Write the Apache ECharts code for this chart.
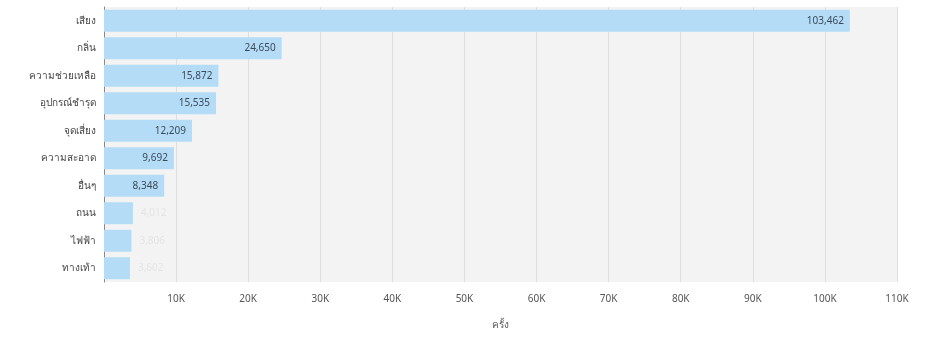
<!DOCTYPE html>
<html><head><meta charset="utf-8">
<script src="https://cdn.jsdelivr.net/npm/echarts@6/dist/echarts.min.js"></script>
<style>html,body{margin:0;padding:0;background:#fff}#c{width:928px;height:339px}</style>
</head><body><div id="c"></div>
<script>
const categories = ["เสียง","กลิ่น","ความช่วยเหลือ","อุปกรณ์ชำรุด","จุดเสี่ยง","ความสะอาด","อื่นๆ","ถนน","ไฟฟ้า","ทางเท้า"];
const values = [103462,24650,15872,15535,12209,9692,8348,4012,3806,3602];
const xTicks = [0,10000,20000,30000,40000,50000,60000,70000,80000,90000,100000,110000];
const axisName = "ครั้ง";

const chart = echarts.init(document.getElementById('c'));
chart.setOption({
  animation:false,
  grid:{left:104,right:31,top:7,bottom:57,containLabel:false,backgroundColor:'#f3f3f3',show:true,borderWidth:0},
  xAxis:{type:'value',min:xTicks[0],max:xTicks[xTicks.length-1],interval:xTicks[1]-xTicks[0],
    name:axisName,nameLocation:'middle',nameGap:38,nameTextStyle:{color:'#555',fontSize:10,fontFamily:'Noto Sans'},
    axisLabel:{color:'#555',fontSize:10,fontFamily:'Noto Sans',margin:12,
      formatter:v=>v===0?'':(v/1000)+'K'},
    splitLine:{show:true,lineStyle:{color:'#dedede',width:1}},
    axisLine:{show:false},axisTick:{show:false}},
  yAxis:{type:'category',data:categories,inverse:true,
    axisLabel:{color:'#444',fontSize:10,fontFamily:'Noto Sans',margin:8},
    axisLine:{show:true,lineStyle:{color:'#888',width:1}},axisTick:{show:false}},
  series:[{type:'bar',data:values.map((v,i)=>({value:v,label: i>=7?{position:'right',color:'#e4e4e4',distance:8}:{}})),
    barCategoryGap:'20%',itemStyle:{color:'#b5dcf6'},
    label:{show:true,position:'insideRight',color:'#3a4a5a',fontSize:10,fontFamily:'Noto Sans',distance:6,
      formatter:p=>p.value.toLocaleString('en-US')}}]
});
</script></body></html>
